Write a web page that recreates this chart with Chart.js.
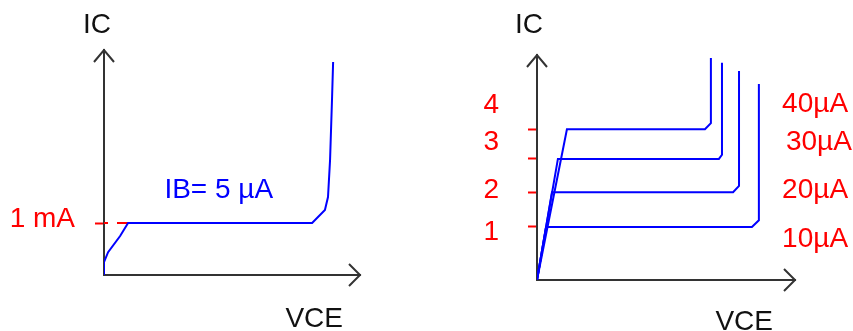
<!DOCTYPE html>
<html>
<head>
<meta charset="utf-8">
<script src="https://cdn.jsdelivr.net/npm/chart.js@4.4.1/dist/chart.umd.min.js"></script>
<style>
  body { margin: 0; background: #fff; }
  #wrap { position: relative; width: 853px; height: 331px; }
  canvas { position: absolute; top: 0; }
</style>
</head>
<body>
<div id="wrap">
  <canvas id="leftChart" width="430" height="331" style="left:0"></canvas>
  <canvas id="rightChart" width="423" height="331" style="left:430px"></canvas>
</div>
<script>
// ---- data (VCE in volts, IC in mA) ----
// left: one curve, IB = 5 uA
const leftVce = [0, 0, 0.16, 0.63, 0.94, 8.13, 8.63, 8.75, 8.83, 8.91, 8.95];
const leftIc = [0, 0.25, 0.44, 0.75, 1.0, 1.0, 1.25, 1.5, 2.21, 3.43, 4.1];
const leftTickValues = [1];
const leftTickLabels = ['1 mA'];
const leftCurveName = 'IB= 5 µA';

// right: family of curves
const ibNames = ['10µA', '20µA', '30µA', '40µA'];
const vce10 = [0, 0.35, 8.33, 8.6, 8.6];
const ic10 = [0, 1.02, 1.02, 1.15, 3.77];
const vce20 = [0, 0.58, 7.6, 7.83, 7.83];
const ic20 = [0, 1.69, 1.69, 1.81, 4.02];
const vce30 = [0, 0.81, 7.05, 7.17, 7.17];
const ic30 = [0, 2.33, 2.33, 2.41, 4.18];
const vce40 = [0, 1.16, 6.51, 6.74, 6.74];
const ic40 = [0, 2.9, 2.9, 3.02, 4.27];
const rightTickLabels = ['1', '2', '3', '4'];

// ---- layout (where the texts sit, in axis units) ----
const rightTickLabelAt = [0.92, 1.73, 2.65, 3.37];
const leftNoteAt = { x: 2.36, y: 1.48 };
const rightNoteAt = [{ x: 9.5, y: 0.64 }, { x: 9.5, y: 1.58 }, { x: 9.65, y: 2.5 }, { x: 9.5, y: 3.23 }];

const FONT = '"Liberation Sans", Arial, sans-serif';
const BLUE = '#0000ff';
const RED = '#ff0000';
const AXIS = '#333333';
const VMAX = 10;
const IMAX = 4.33;

Chart.defaults.font.family = FONT;
Chart.defaults.font.size = 28;

function pts(xs, ys) {
    return xs.map((x, i) => ({ x: x, y: ys[i] }));
}

// arrows, axis names and curve notes
const sketchPlugin = {
    id: 'sketch',
    afterDatasetsDraw(chart, args, opts) {
        const ctx = chart.ctx;
        const a = chart.chartArea;
        const sx = chart.scales.x;
        const sy = chart.scales.y;
        ctx.save();
        ctx.strokeStyle = AXIS;
        ctx.lineWidth = 2;
        ctx.beginPath();
        ctx.moveTo(a.left - 10, a.top + 12);
        ctx.lineTo(a.left, a.top);
        ctx.lineTo(a.left + 10, a.top + 12);
        ctx.moveTo(a.right - 11, a.bottom - 11);
        ctx.lineTo(a.right, a.bottom);
        ctx.lineTo(a.right - 11, a.bottom + 11);
        ctx.stroke();

        ctx.font = '28px ' + FONT;
        ctx.textBaseline = 'alphabetic';
        ctx.fillStyle = '#111';
        ctx.textAlign = 'center';
        ctx.fillText('IC', a.left + opts.icDx, a.top + opts.icDy);
        ctx.textAlign = 'right';
        ctx.fillText('VCE', a.right + opts.vceDx, a.bottom + opts.vceDy);

        ctx.textAlign = 'left';
        opts.notes.forEach(n => {
            ctx.fillStyle = n.color;
            ctx.fillText(n.text, sx.getPixelForValue(n.x), sy.getPixelForValue(n.y));
        });
        ctx.restore();
    }
};

window.onload = function() {
    const lchart = document.getElementById('leftChart');
    const rchart = document.getElementById('rightChart');

    // Left chart: IB = 5 uA
    const kneeX = leftVce[leftIc.indexOf(leftTickValues[0])];
    new Chart(lchart, {
        type: 'scatter',
        data: {
            datasets: [{
                data: pts(leftVce, leftIc),
                showLine: true,
                borderColor: BLUE,
                borderWidth: 2,
                pointRadius: 0
            }, {
                // dashed guide from the 1 mA tick to the knee
                data: [{ x: 0, y: leftTickValues[0] }, { x: kneeX, y: leftTickValues[0] }],
                showLine: true,
                borderColor: RED,
                borderWidth: 2,
                borderDash: [13, 9],
                borderDashOffset: 9,
                pointRadius: 0
            }]
        },
        options: {
            responsive: false,
            animation: false,
            devicePixelRatio: 1,
            layout: { padding: { top: 50, right: 70, bottom: 0, left: 0 } },
            plugins: {
                legend: { display: false },
                tooltip: { enabled: false },
                sketch: {
                    icDx: -7, icDy: -17, vceDx: -17, vceDy: 52,
                    notes: [{ text: leftCurveName, color: BLUE, x: leftNoteAt.x, y: leftNoteAt.y }]
                }
            },
            scales: {
                x: {
                    type: 'linear', min: 0, max: VMAX,
                    ticks: { display: false },
                    grid: { display: false, drawTicks: false },
                    border: { color: AXIS, width: 2 },
                    afterFit: s => { s.height = 56; }
                },
                y: {
                    type: 'linear', min: 0, max: IMAX,
                    afterBuildTicks: s => { s.ticks = leftTickValues.map(v => ({ value: v })); },
                    ticks: {
                        color: RED, padding: 20, labelOffset: -4, autoSkip: false,
                        callback: (v, i) => leftTickLabels[i]
                    },
                    grid: {
                        drawOnChartArea: false, drawTicks: true, tickLength: 9,
                        color: RED, tickColor: RED, tickWidth: 2
                    },
                    border: { color: AXIS, width: 2 },
                    afterFit: s => { s.width = 104; }
                }
            }
        },
        plugins: [sketchPlugin]
    });

    // Right chart: IB = 10 .. 40 uA
    const curves = [pts(vce10, ic10), pts(vce20, ic20), pts(vce30, ic30), pts(vce40, ic40)];
    const plateaus = [ic10[1], ic20[1], ic30[1], ic40[1]];
    new Chart(rchart, {
        type: 'scatter',
        data: {
            datasets: curves.map((c, i) => ({
                label: ibNames[i],
                data: c,
                showLine: true,
                borderColor: BLUE,
                borderWidth: 2,
                pointRadius: 0
            }))
        },
        options: {
            responsive: false,
            animation: false,
            devicePixelRatio: 1,
            layout: { padding: { top: 55, right: 58, bottom: 0, left: 0 } },
            plugins: {
                legend: { display: false },
                tooltip: { enabled: false },
                sketch: {
                    icDx: -8, icDy: -22, vceDx: -22, vceDy: 50,
                    notes: ibNames.map((t, i) => ({ text: t, color: RED, x: rightNoteAt[i].x, y: rightNoteAt[i].y }))
                }
            },
            scales: {
                x: {
                    type: 'linear', min: 0, max: VMAX,
                    ticks: { display: false },
                    grid: { display: false, drawTicks: false },
                    border: { color: AXIS, width: 2 },
                    afterFit: s => { s.height = 51; }
                },
                // number labels, outer
                yl: {
                    type: 'linear', position: 'left', weight: 1, min: 0, max: IMAX,
                    afterBuildTicks: s => { s.ticks = rightTickLabelAt.map(v => ({ value: v })); },
                    ticks: {
                        color: RED, padding: 29, autoSkip: false,
                        callback: (v, i) => rightTickLabels[i]
                    },
                    grid: { display: false, drawTicks: false },
                    border: { display: false },
                    afterFit: s => { s.width = 98; }
                },
                // tick marks at each plateau, inner
                y: {
                    type: 'linear', position: 'left', weight: 0, min: 0, max: IMAX,
                    afterBuildTicks: s => { s.ticks = plateaus.map(v => ({ value: v })); },
                    ticks: { display: false },
                    grid: {
                        drawOnChartArea: false, drawTicks: true, tickLength: 9,
                        color: RED, tickColor: RED, tickWidth: 2
                    },
                    border: { color: AXIS, width: 2 },
                    afterFit: s => { s.width = 9; }
                }
            }
        },
        plugins: [sketchPlugin]
    });
};
</script>
</body>
</html>
